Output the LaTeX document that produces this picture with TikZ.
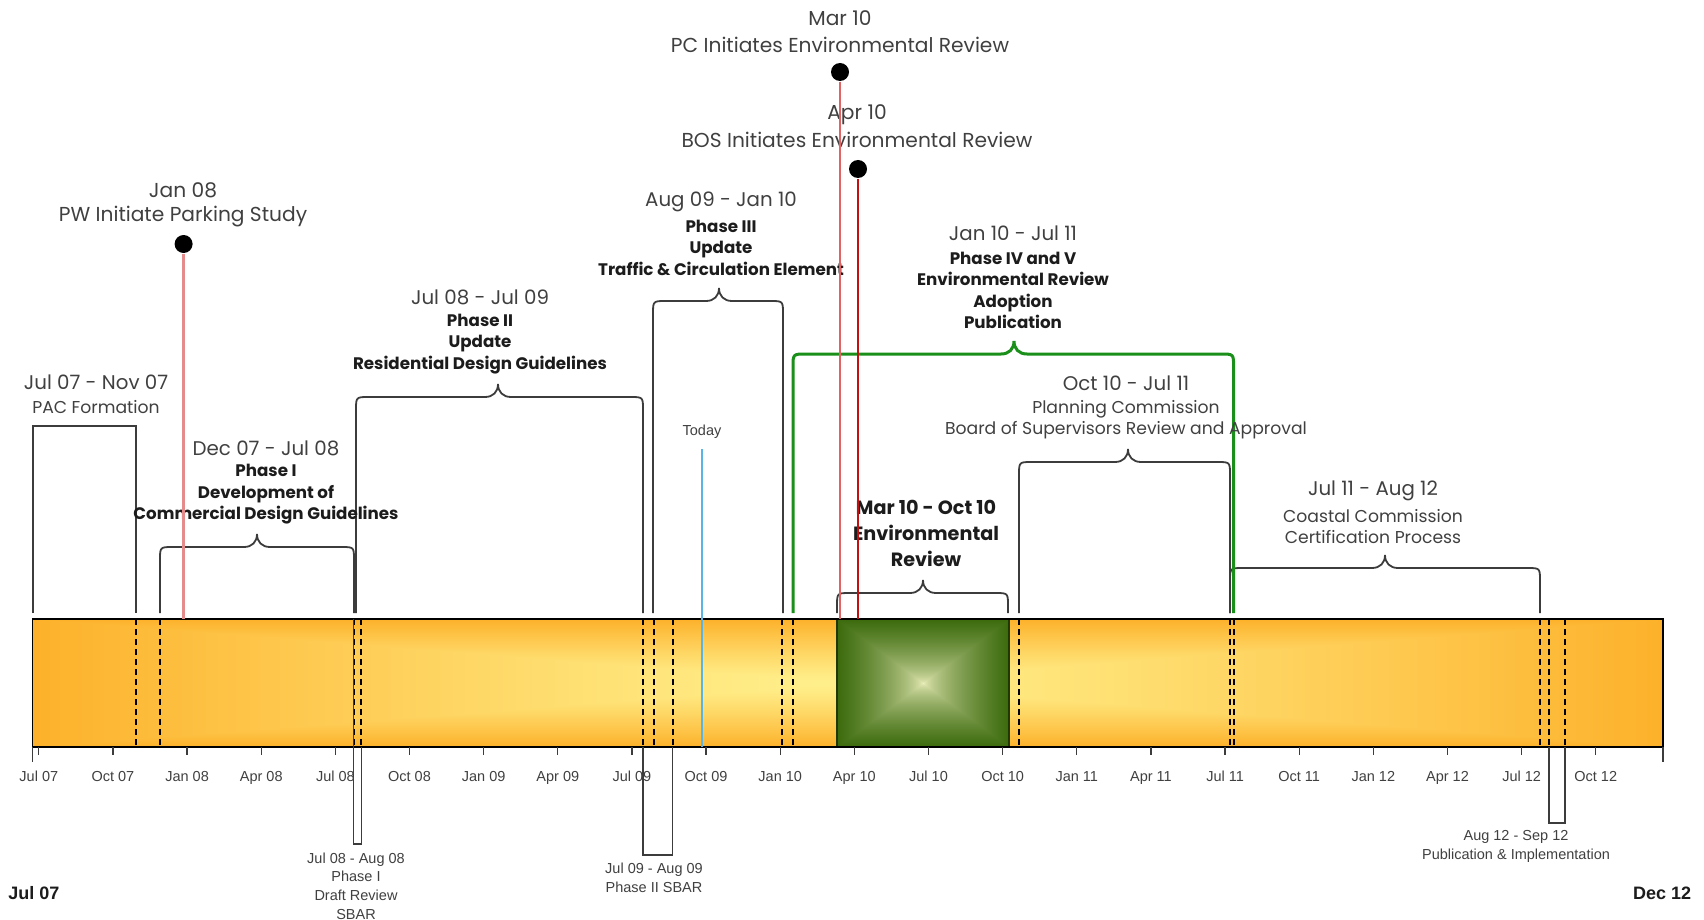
\documentclass[tikz,border=0pt]{standalone}
\usepackage{fontspec}
\newfontfamily\gothic{Poppins}
\newfontfamily\arial{Liberation Sans}
\usetikzlibrary{calc}

\definecolor{textgray}{HTML}{404040}
\definecolor{textdark}{HTML}{1C1C1C}
\definecolor{bracegray}{HTML}{3C3C3C}
\definecolor{phasegreen}{HTML}{1A8F1A}
\definecolor{envdark}{HTML}{1E3806}
\definecolor{pinkred}{HTML}{E58B8B}
\definecolor{softred}{HTML}{E06464}
\definecolor{deepred}{HTML}{C41010}
\definecolor{todayblue}{HTML}{5AB4E6}

\pgfdeclarefunctionalshading{barglow}{\pgfpointorigin}{\pgfpoint{100bp}{100bp}}{}{
  50 sub abs 25 div exch 50 sub abs 25 div
  2 copy lt {exch} if pop
  dup 1 gt {pop 1} if
  1.2 exp
  dup -0.008 mul 1 add exch
  dup -0.247 mul 0.941 add exch
  -0.384 mul 0.549 add
}
\pgfdeclarefunctionalshading{envglow}{\pgfpointorigin}{\pgfpoint{100bp}{100bp}}{}{
  50 sub abs 25 div exch 50 sub abs 25 div
  2 copy lt {exch} if pop
  dup 1 gt {pop 1} if
  0.6 exp
  dup -0.71 mul 0.941 add exch
  dup -0.533 mul 0.949 add exch
  -0.706 mul 0.753 add
}

\newcommand{\phasebrace}[5][bracketline]{%
  \draw[#1] (#2,613) -- (#2,#4+13) .. controls (#2,#4) .. (#2+13,#4) -- (#5-13,#4)
    .. controls (#5-5,#4) and (#5,#4-5) .. (#5,#4-13)
    .. controls (#5,#4-5) and (#5+5,#4) .. (#5+13,#4) -- (#3-13,#4)
    .. controls (#3,#4) .. (#3,#4+13) -- (#3,613);}

\begin{document}
\begin{tikzpicture}[x=1pt, y=-1pt, line width=1.5pt,
  dateline/.style={font=\gothic\fontsize{19.8}{24}\selectfont, text=textgray, inner sep=0pt},
  eventline/.style={font=\gothic\fontsize{20.2}{24}\selectfont, text=textgray, inner sep=0pt},
  plaintext/.style={font=\gothic\fontsize{17.2}{21}\selectfont, text=textgray, inner sep=0pt, align=center},
  phasetext/.style={font=\gothic\bfseries\fontsize{16.7}{21.5}\selectfont, text=textdark, inner sep=0pt, align=center},
  envtext/.style={font=\gothic\bfseries\fontsize{19.2}{26}\selectfont, text=textdark, inner sep=0pt, align=center},
  ticktext/.style={font=\arial\fontsize{14.5}{17}\selectfont, text=textgray, inner sep=0pt, anchor=base},
  notetext/.style={font=\arial\fontsize{14.5}{18.7}\selectfont, text=textgray, inner sep=0pt, align=center},
  endtext/.style={font=\arial\bfseries\fontsize{18}{20}\selectfont, text=textdark, inner sep=0pt},
  bracketline/.style={draw=bracegray, line width=1.8pt},
  greenbracket/.style={draw=phasegreen, line width=3pt},
  splitline/.style={dash pattern=on 6pt off 4pt, line width=1.8pt},
  eventdot/.style={circle, fill=black, inner sep=0pt, minimum size=18pt}]
  \useasboundingbox (0,0) rectangle (1704,920);

  \coordinate (barNW) at (32.6,619);
  \coordinate (barSE) at (1663,747);
  \coordinate (envNW) at (837,619);
  \coordinate (envSE) at (1009,747);

	\draw[bracketline] (32.6,613) -- (32.6,426) -- (136,426) -- (136,613);
	\phasebrace{160}{354}{547}{257}
	\phasebrace{356}{643}{397}{498}
	\phasebrace{653}{783}{301}{719}
	\phasebrace{837}{1008}{593}{923}
	\phasebrace{1019}{1230}{462}{1128}
	\phasebrace{1230}{1540}{568}{1385}
	\phasebrace[greenbracket]{793}{1233.6}{354}{1014}

  \shade[shading=barglow] (barNW) rectangle (barSE);
  \shade[shading=envglow] (envNW) rectangle (envSE);
  \foreach \x in {136,160,353.6,360.7,643,654,672.7,782,793,1019,1230,1234,1540,1549,1565}
    \draw[splitline] (\x,619) -- (\x,747);
  \draw[envdark, line width=1.5pt] (envNW) rectangle (envSE);
  \draw[line width=1.5pt] (barNW) rectangle (barSE);

	\draw[bracegray] (353.6,619) -- (353.6,844) -- (361.6,844) -- (361.6,747);
	\draw[bracegray] (643,747) -- (643,855) -- (672.7,855) -- (672.7,747);
	\draw[bracegray] (1549,747) -- (1549,823) -- (1565,823) -- (1565,747);

  \draw[bracegray, line width=1.2pt] (barNW |- barSE) -- ++(0,15);
  \draw[bracegray, line width=1.2pt] (barSE) -- ++(0,15);
  \foreach \lab [count=\k from 0] in {Jul 07,Oct 07,Jan 08,Apr 08,Jul 08,Oct 08,Jan 09,Apr 09,Jul 09,Oct 09,Jan 10,Apr 10,Jul 10,Oct 10,Jan 11,Apr 11,Jul 11,Oct 11,Jan 12,Apr 12,Jul 12,Oct 12}{
    \draw[bracegray, line width=1.2pt] (38.8+\k*74.14,747) -- ++(0,8);
    \node[ticktext] (tick\k) at (38.8+\k*74.14,781) {\lab};
  }

	\node[dateline] (pacdate) at (96,382) {Jul 07 - Nov 07};
	\node[plaintext] (pactext) at (96,407) {PAC Formation};
	\node[dateline] (p1date) at (266,448) {Dec 07 - Jul 08};
	\node[phasetext] (p1text) at (266,494.5) {Phase I\\Development of\\Commercial Design Guidelines};
	\node[dateline] (p2date) at (480,297) {Jul 08 - Jul 09};
	\node[phasetext] (p2text) at (480,344) {Phase II\\Update\\Residential Design Guidelines};
	\node[dateline] (p3date) at (721,202) {Aug 09 - Jan 10};
	\node[phasetext] (p3text) at (721,247.5) {Phase III\\Update\\Traffic \& Circulation Element};
	\node[dateline] (p45date) at (1013,233) {Jan 10 - Jul 11};
	\node[phasetext] (p45text) at (1013,290.5) {Phase IV and V\\Environmental Review\\Adoption\\Publication};
	\node[envtext] (envtext) at (926,533) {Mar 10 - Oct 10\\Environmental\\Review};
	\node[dateline] (pcdate) at (1126,383) {Oct 10 - Jul 11};
	\node[plaintext] (pctext) at (1126,419.5) {Planning Commission\\Board of Supervisors Review and Approval};
	\node[dateline] (ccdate) at (1373,491) {Jul 11 - Aug 12};
	\node[plaintext] (cctext) at (1373,526.5) {Coastal Commission\\Certification Process};

	\node[notetext] (sbar1) at (356,886) {Jul 08 - Aug 08\\Phase I\\Draft Review\\SBAR};
	\node[notetext] (sbar2) at (654,877.5) {Jul 09 - Aug 09\\Phase II SBAR};
	\node[notetext] (pubnote) at (1516,846.5) {Aug 12 - Sep 12\\Publication \& Implementation};
	\node[endtext, anchor=west] (startdate) at (7.6,893) {Jul 07};
	\node[endtext, anchor=east] (enddate) at (1692,893) {Dec 12};

	\node[eventline] (jandate) at (183,190) {Jan 08};
	\node[eventline] (jantext) at (183,217) {PW Initiate Parking Study};
	\node[eventline] (mardate) at (840,18) {Mar 10};
	\node[eventline] (martext) at (840,45) {PC Initiates Environmental Review};
	\node[eventline] (aprdate) at (857,115) {Apr 10};
	\node[eventline] (aprtext) at (857,140) {BOS Initiates Environmental Review};
	\node[ticktext, anchor=center] (today) at (702,432) {Today};

  \coordinate (todaytop) at (702,449);
  \coordinate (janbar) at (183.6,619);
  \coordinate (marbar) at (840,619);
  \coordinate (aprbar) at (858,619);
  \node[eventdot] (jandot) at (183.6,244) {};
  \node[eventdot] (mardot) at (840,72) {};
  \node[eventdot] (aprdot) at (858,169) {};
  \draw[todayblue] (todaytop) -- (todaytop |- barSE);
  \draw[pinkred, line width=2.5pt] (jandot) -- (janbar);
  \draw[softred] (mardot) -- (marbar);
  \draw[deepred] (aprdot) -- (aprbar);
\end{tikzpicture}
\end{document}
